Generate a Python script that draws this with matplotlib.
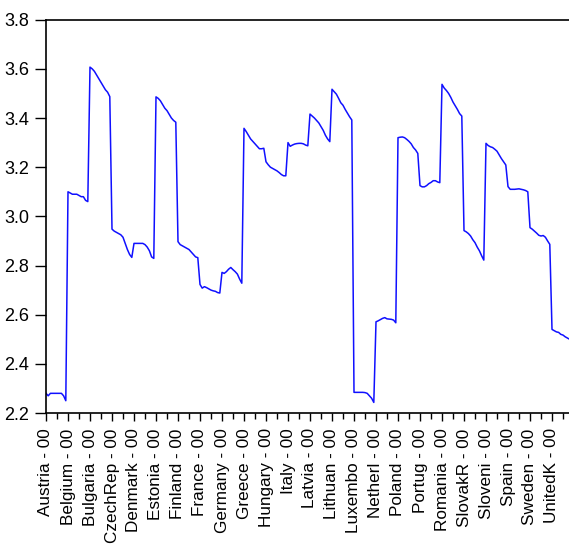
import numpy as np
import matplotlib
matplotlib.use("Agg")
import matplotlib.pyplot as plt
from matplotlib.ticker import MultipleLocator, FixedLocator

plt.rcParams["font.family"] = ["Liberation Sans", "DejaVu Sans"]

countries = ["Austria", "Belgium", "Bulgaria", "CzechRep", "Denmark", "Estonia",
             "Finland", "France", "Germany", "Greece", "Hungary", "Italy",
             "Latvia", "Lithuan", "Luxembo", "Netherl", "Poland", "Portug",
             "Romania", "SlovakR", "Sloveni", "Spain", "Sweden", "UnitedK"]

# ten yearly observations per country (00 .. 09)
austria = [2.28, 2.27, 2.28, 2.28, 2.28, 2.28, 2.28, 2.28, 2.27, 2.25]
belgium = [3.10, 3.095, 3.09, 3.09, 3.09, 3.085, 3.08, 3.08, 3.065, 3.06]
bulgaria = [3.607, 3.60, 3.59, 3.575, 3.56, 3.545, 3.53, 3.515, 3.505, 3.487]
czechrep = [2.948, 2.94, 2.935, 2.93, 2.925, 2.915, 2.89, 2.865, 2.845, 2.833]
denmark = [2.89, 2.89, 2.89, 2.89, 2.89, 2.885, 2.875, 2.86, 2.835, 2.829]
estonia = [3.486, 3.48, 3.47, 3.455, 3.44, 3.43, 3.415, 3.40, 3.39, 3.383]
finland = [2.897, 2.885, 2.88, 2.875, 2.87, 2.865, 2.855, 2.845, 2.835, 2.832]
france = [2.723, 2.708, 2.714, 2.71, 2.705, 2.70, 2.697, 2.695, 2.69, 2.688]
germany = [2.772, 2.768, 2.775, 2.785, 2.792, 2.783, 2.775, 2.765, 2.745, 2.728]
greece = [3.358, 3.345, 3.33, 3.315, 3.305, 3.295, 3.285, 3.275, 3.275, 3.277]
hungary = [3.222, 3.21, 3.20, 3.195, 3.19, 3.185, 3.178, 3.17, 3.165, 3.165]
italy = [3.30, 3.285, 3.29, 3.294, 3.296, 3.297, 3.297, 3.295, 3.29, 3.287]
latvia = [3.416, 3.408, 3.40, 3.39, 3.38, 3.365, 3.35, 3.33, 3.315, 3.304]
lithuan = [3.517, 3.507, 3.497, 3.48, 3.462, 3.452, 3.435, 3.42, 3.405, 3.392]
luxembo = [2.284, 2.284, 2.284, 2.284, 2.284, 2.283, 2.28, 2.27, 2.26, 2.243]
netherl = [2.571, 2.575, 2.58, 2.585, 2.588, 2.583, 2.582, 2.581, 2.578, 2.567]
poland = [3.32, 3.322, 3.323, 3.32, 3.313, 3.305, 3.295, 3.28, 3.27, 3.256]
portug = [3.125, 3.12, 3.12, 3.125, 3.133, 3.138, 3.145, 3.145, 3.14, 3.137]
romania = [3.537, 3.522, 3.512, 3.50, 3.484, 3.465, 3.45, 3.435, 3.418, 3.408]
slovakr = [2.942, 2.937, 2.93, 2.92, 2.905, 2.893, 2.875, 2.86, 2.84, 2.822]
sloveni = [3.297, 3.288, 3.283, 3.28, 3.273, 3.265, 3.25, 3.235, 3.222, 3.209]
spain = [3.121, 3.11, 3.11, 3.11, 3.111, 3.112, 3.11, 3.108, 3.105, 3.10]
sweden = [2.954, 2.948, 2.94, 2.932, 2.923, 2.92, 2.922, 2.915, 2.90, 2.886]
unitedk = [2.54, 2.535, 2.53, 2.528, 2.52, 2.517, 2.51, 2.505, 2.50, 2.50]

series = [austria, belgium, bulgaria, czechrep, denmark, estonia, finland,
          france, germany, greece, hungary, italy, latvia, lithuan, luxembo,
          netherl, poland, portug, romania, slovakr, sloveni, spain, sweden,
          unitedk]

y = np.concatenate(series)
n_per = len(austria)
x = np.arange(len(y))
labels = [f"{c} - 00" for c in countries]

fig = plt.figure(figsize=(5.69, 5.47), dpi=100)
ax = fig.add_axes([46 / 569, 1 - 413 / 547, 1 - 46 / 569, (413 - 19.7) / 547])
ax.plot(x, y, color="#1010ff", lw=1.1)

ax.set_ylim(2.2, 3.8)
ax.set_xlim(0, (569 - 46) / 2.2)
ax.yaxis.set_major_locator(MultipleLocator(0.2))
ax.yaxis.set_major_formatter(matplotlib.ticker.FormatStrFormatter("%.1f"))

ax.xaxis.set_major_locator(FixedLocator(np.arange(len(countries)) * n_per))
ax.xaxis.set_minor_locator(FixedLocator(np.arange(len(countries)) * n_per + n_per / 2))
ax.set_xticklabels(labels, rotation=90)

ax.spines["right"].set_visible(False)
for s in ["left", "top", "bottom"]:
    ax.spines[s].set_linewidth(1.2)

ax.tick_params(axis="y", which="major", length=8, width=1, labelsize=13, pad=4)
ax.tick_params(axis="x", which="major", length=6, width=1, labelsize=12.3, pad=5)
ax.tick_params(axis="x", which="minor", length=4, width=1)

fig.savefig("out.png", dpi=100)
